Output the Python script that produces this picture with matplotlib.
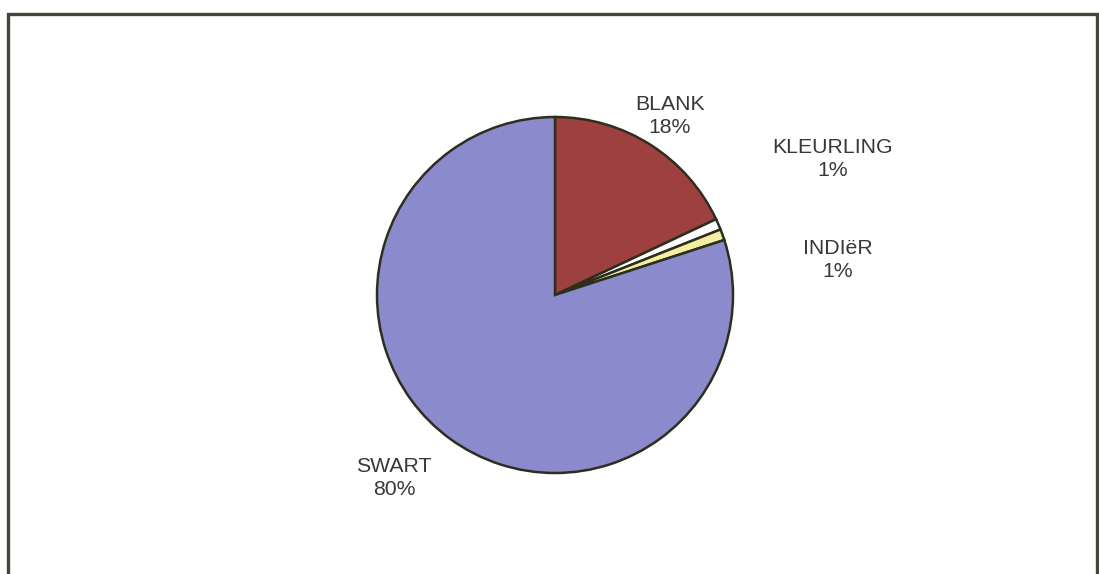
import matplotlib
matplotlib.use("Agg")
import matplotlib.pyplot as plt
from matplotlib.patches import Rectangle

categories = ["BLANK", "KLEURLING", "INDIëR", "SWART"]
values = [18, 1, 1, 80]
colors = ["#9E4040", "#FFFFFF", "#F2F0A0", "#8A8ACC"]

W, H = 1099, 574
fig = plt.figure(figsize=(W / 100, H / 100), dpi=100)
ax = fig.add_axes([0, 0, 1, 1])
ax.set_xlim(0, W)
ax.set_ylim(0, H)
ax.set_aspect("equal")
ax.axis("off")

# frame
ax.add_patch(Rectangle((7.5, -10), 1089, H - 13.5 + 10, fill=False,
                       edgecolor="#45453a", linewidth=2.4))

cx, cy, r = 555, H - 295, 178
ax.pie(values, colors=colors, startangle=90, counterclock=False,
       center=(cx, cy), radius=r,
       wedgeprops=dict(edgecolor="#2e2e1e", linewidth=1.8))
ax.set_xlim(0, W)
ax.set_ylim(0, H)

label_pos = [(670, 116), (833, 159), (838, 260), (394, 478)]
for name, v, (x, y) in zip(categories, values, label_pos):
    ax.text(x, H - y, f"{name}\n{v}%", ha="center", va="center",
            fontsize=15.3, family="Liberation Sans", color="#383838",
            linespacing=1.3)

fig.savefig("out.png", dpi=100)
